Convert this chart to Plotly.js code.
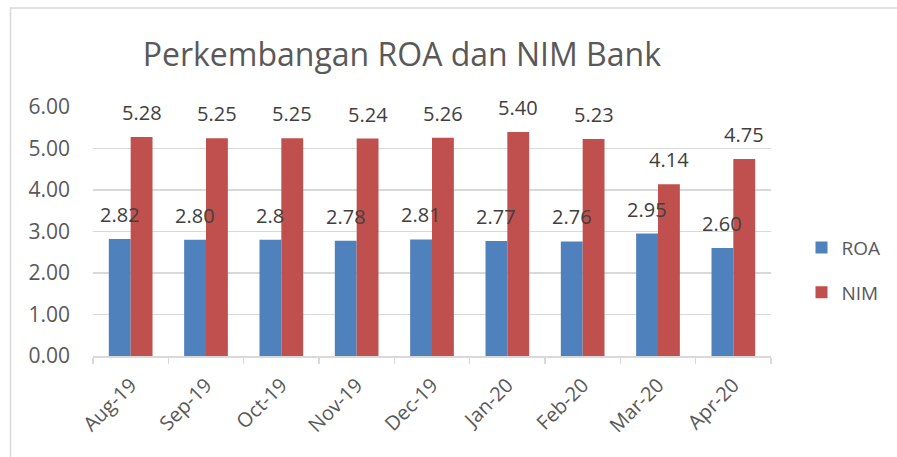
<!DOCTYPE html>
<html>
<head>
<meta charset="utf-8">
<script src="https://cdn.plot.ly/plotly-3.0.1.min.js"></script>
<style>html,body{margin:0;padding:0;background:#fff}#chart{width:897px;height:457px}</style>
</head>
<body>
<div id="chart"></div>
<script>
const categories = ["Aug-19","Sep-19","Oct-19","Nov-19","Dec-19","Jan-20","Feb-20","Mar-20","Apr-20"];
const roaValues = [2.82, 2.80, 2.80, 2.78, 2.81, 2.77, 2.76, 2.95, 2.60];
const nimValues = [5.28, 5.25, 5.25, 5.24, 5.26, 5.40, 5.23, 4.14, 4.75];
const roaLabels = ["2.82","2.80","2.8","2.78","2.81","2.77","2.76","2.95","2.60"];
const nimLabels = ["5.28","5.25","5.25","5.24","5.26","5.40","5.23","4.14","4.75"];
const yTickVals = [0,1,2,3,4,5,6];
const yTickText = ["0.00","1.00","2.00","3.00","4.00","5.00","6.00"];

const FONT = "Open Sans, sans-serif";
const traces = [
  {type:"bar", name:"ROA", x:categories, y:roaValues, marker:{color:"#4F81BD"}, legendgroup:"a", hoverinfo:"x+y"},
  {type:"bar", name:"NIM", x:categories, y:nimValues, marker:{color:"#C0504D"}, legendgroup:"b", hoverinfo:"x+y"}
];

const annotations = [];
categories.forEach((c,i)=>{
  annotations.push({x:c, y:roaValues[i], xref:"x", yref:"y", text:roaLabels[i], showarrow:false,
    xshift:-11, yshift:9, yanchor:"bottom", font:{family:FONT, size:20, color:"#404040"}});
  annotations.push({x:c, y:nimValues[i], xref:"x", yref:"y", text:nimLabels[i], showarrow:false,
    xshift:11, yshift:9, yanchor:"bottom", font:{family:FONT, size:20, color:"#404040"}});
});

const layout = {
  width:897, height:457,
  margin:{l:93, r:122, t:107, b:101},
  paper_bgcolor:"#ffffff", plot_bgcolor:"#ffffff",
  title:{text:"Perkembangan ROA dan NIM Bank", x:0.448, xanchor:"center", y:0.88, yanchor:"middle",
    font:{family:FONT, size:32, color:"#595959"}},
  barmode:"group", bargap:0.42, bargroupgap:0,
  showlegend:true,
  legend:{x:1.045, xanchor:"left", y:0.345, yanchor:"middle", traceorder:"grouped", tracegroupgap:17,
    font:{family:FONT, size:19, color:"#595959"}, bgcolor:"rgba(0,0,0,0)"},
  xaxis:{type:"category", showline:true, linecolor:"#D9D9D9", linewidth:1.5,
    ticks:"outside", tickson:"boundaries", ticklen:6, tickcolor:"#D9D9D9", tickwidth:1.5,
    tickangle:-45, ticklabelstandoff:8, tickfont:{family:FONT, size:20, color:"#595959"}, showgrid:false, fixedrange:true},
  yaxis:{range:[0,6], tickvals:yTickVals, ticktext:yTickText, showgrid:true, gridcolor:"#D9D9D9", gridwidth:1.5,
    zeroline:false, showline:false, ticks:"", ticklabelstandoff:22,
    tickfont:{family:FONT, size:21, color:"#595959"}, fixedrange:true},
  annotations:annotations,
  shapes:[{type:"rect", xref:"paper", yref:"paper", x0:-0.1217, x1:1.3, y0:-0.6, y1:1.3976,
    line:{color:"#D9D9D9", width:1.5}, fillcolor:"rgba(0,0,0,0)", layer:"below"}]
};

Plotly.newPlot("chart", traces, layout, {displayModeBar:false, staticPlot:true});
</script>
</body>
</html>
